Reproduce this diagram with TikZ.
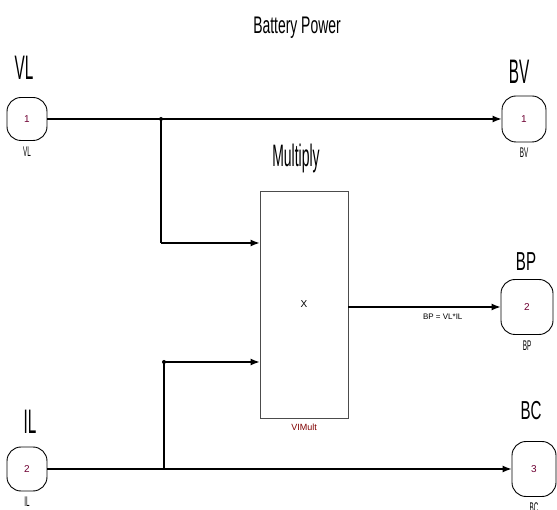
\documentclass[tikz,border=0pt]{standalone}
\usepackage{fontspec}
\setmainfont{Liberation Sans}
\newfontfamily\narrowfont[FakeStretch=0.45]{Liberation Sans}
\newfontfamily\titlefont[FakeStretch=0.58]{Liberation Sans}
\usetikzlibrary{arrows.meta}
\definecolor{mdlred}{RGB}{128,0,0}
\definecolor{numred}{RGB}{110,0,50}

\begin{document}
\begin{tikzpicture}[x=1pt,y=-1pt,
  port/.style={draw,line width=0.9pt,rounded corners=14pt,inner sep=0pt,
    font=\fontsize{10}{10}\selectfont,text=numred},
  bigname/.style={font=#1},
  tag/.style={font=\narrowfont\fontsize{14}{14}\selectfont},
  wire/.style={line width=1.3pt},
  sig/.style={wire,-{Latex[length=9pt,width=7pt]}}]
\useasboundingbox (0,0) rectangle (557,510);
\node[font=\titlefont\fontsize{24}{24}\selectfont] (title) at (297,28) {Battery Power};
\foreach \n/\t/\x/\y/\w/\h/\num/\lx/\ly/\f/\s in {vl/VL/27/119/40/43/1/24/68/\narrowfont/34,
    bv/BV/524/119/44/46/1/519/72/\narrowfont/34,
    bp/BP/527/307/52/55/2/526/262/\titlefont/26,
    il/IL/27/469/40/44/2/30/422/\narrowfont/34,
    bc/BC/534/469/44/55/3/531/411/\titlefont/26}{
  \node[port,minimum width=\w pt,minimum height=\h pt] (\n) at (\x,\y) {\num};
  \node[tag,below=2pt] (\n-tag) at (\n.south) {\t};
  \node[bigname=\f\fontsize{\s}{\s}\selectfont] (\n-name) at (\lx,\ly) {\t};
}
\node[draw=black!70,line width=0.9pt,minimum width=88pt,minimum height=227pt,inner sep=0pt,
  font=\fontsize{10}{10}\selectfont] (mult) at (304,304.5) {X};
\node[bigname=\narrowfont\fontsize{31}{31}\selectfont] (mult-name) at (296,158) {Multiply};
\node[font=\fontsize{9}{9}\selectfont,text=mdlred,below=2pt] (mult-tag) at (mult.south) {VIMult};

\coordinate (j1) at (161,119);
\coordinate (r1) at (161,243);
\coordinate (j2) at (164,469);
\coordinate (k2) at (164,362);
\draw[sig] (vl.east) -- (vl.east -| bv.west);
\draw[wire] (j1) -- (r1);
\draw[sig] (r1) -- (r1 -| mult.west);
\draw[sig] (il.east) -- (il.east -| bc.west);
\draw[wire] (j2) -- (k2);
\draw[sig] (k2) -- (k2 -| mult.west);
\draw[sig] (mult.east |- bp) -- (bp.west)
  node[pos=0.62,below=3pt,font=\fontsize{8}{8}\selectfont] (bp-sig) {BP = VL*IL};
\fill (j1) circle (2);
\fill (k2) circle (2);
\end{tikzpicture}
\end{document}
